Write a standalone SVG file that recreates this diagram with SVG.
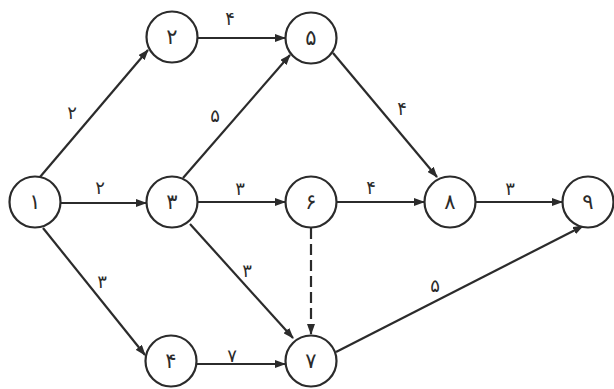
<svg xmlns="http://www.w3.org/2000/svg" width="614" height="389" viewBox="0 0 614 389">
<style>
.n circle{fill:#fff;stroke:#2b2b2b;stroke-width:2.2}
.n text{font-family:"DejaVu Sans","Noto Sans",sans-serif;font-size:21px;fill:#2b2b2b;text-anchor:middle;dominant-baseline:central}
#edges line{stroke:#2b2b2b;stroke-width:2.2;marker-end:url(#ah)}
#edges .d{stroke-dasharray:11 5}
.lbl text{font-family:"DejaVu Sans","Noto Sans",sans-serif;font-size:18px;fill:#2b2b2b;text-anchor:middle;dominant-baseline:central}
</style>
<defs>
<marker id="ah" markerUnits="userSpaceOnUse" markerWidth="11" markerHeight="8" refX="10" refY="4" orient="auto">
<path d="M0,0 L11,4 L0,8 z" fill="#2b2b2b"/>
</marker>
</defs>
<rect width="614" height="389" fill="#fff"/>
<g id="edges">
<line x1="40" y1="177" x2="148" y2="50"/>
<line x1="61" y1="203" x2="146" y2="203"/>
<line x1="43" y1="228" x2="145" y2="355"/>
<line x1="198" y1="38" x2="285" y2="38"/>
<line x1="183" y1="178" x2="290" y2="55"/>
<line x1="333" y1="53" x2="437" y2="177"/>
<line x1="198" y1="202" x2="285" y2="202"/>
<line x1="337" y1="202" x2="424" y2="202"/>
<line x1="476" y1="202" x2="562" y2="202"/>
<line class="d" x1="311" y1="228" x2="311" y2="334"/>
<line x1="190" y1="224" x2="293" y2="338"/>
<line x1="197" y1="364" x2="285" y2="364"/>
<line x1="336" y1="352" x2="583" y2="226"/>
</g>
<g class="lbl" id="labels">
<text x="72" y="112">۲</text>
<text x="100" y="187">۲</text>
<text x="102" y="281">۳</text>
<text x="230" y="18">۴</text>
<text x="215" y="115">۵</text>
<text x="402" y="108">۴</text>
<text x="240" y="188">۳</text>
<text x="371" y="187">۴</text>
<text x="510" y="188">۳</text>
<text x="247" y="270">۳</text>
<text x="232" y="355">۷</text>
<text x="435" y="285">۵</text>
</g>
<g id="node1" class="n"><circle cx="35" cy="202" r="25.5"/><text x="35" y="202">۱</text></g>
<g id="node2" class="n"><circle cx="172" cy="37" r="25.5"/><text x="172" y="37">۲</text></g>
<g id="node3" class="n"><circle cx="172" cy="202" r="25.5"/><text x="172" y="202">۳</text></g>
<g id="node4" class="n"><circle cx="171" cy="361" r="25.5"/><text x="171" y="361">۴</text></g>
<g id="node5" class="n"><circle cx="311" cy="38" r="25.5"/><text x="311" y="38">۵</text></g>
<g id="node6" class="n"><circle cx="311" cy="202" r="25.5"/><text x="311" y="202">۶</text></g>
<g id="node7" class="n"><circle cx="311" cy="361" r="25.5"/><text x="311" y="361">۷</text></g>
<g id="node8" class="n"><circle cx="450" cy="202" r="25.5"/><text x="450" y="202">۸</text></g>
<g id="node9" class="n"><circle cx="588" cy="202" r="25.5"/><text x="588" y="202">۹</text></g>
</svg>
